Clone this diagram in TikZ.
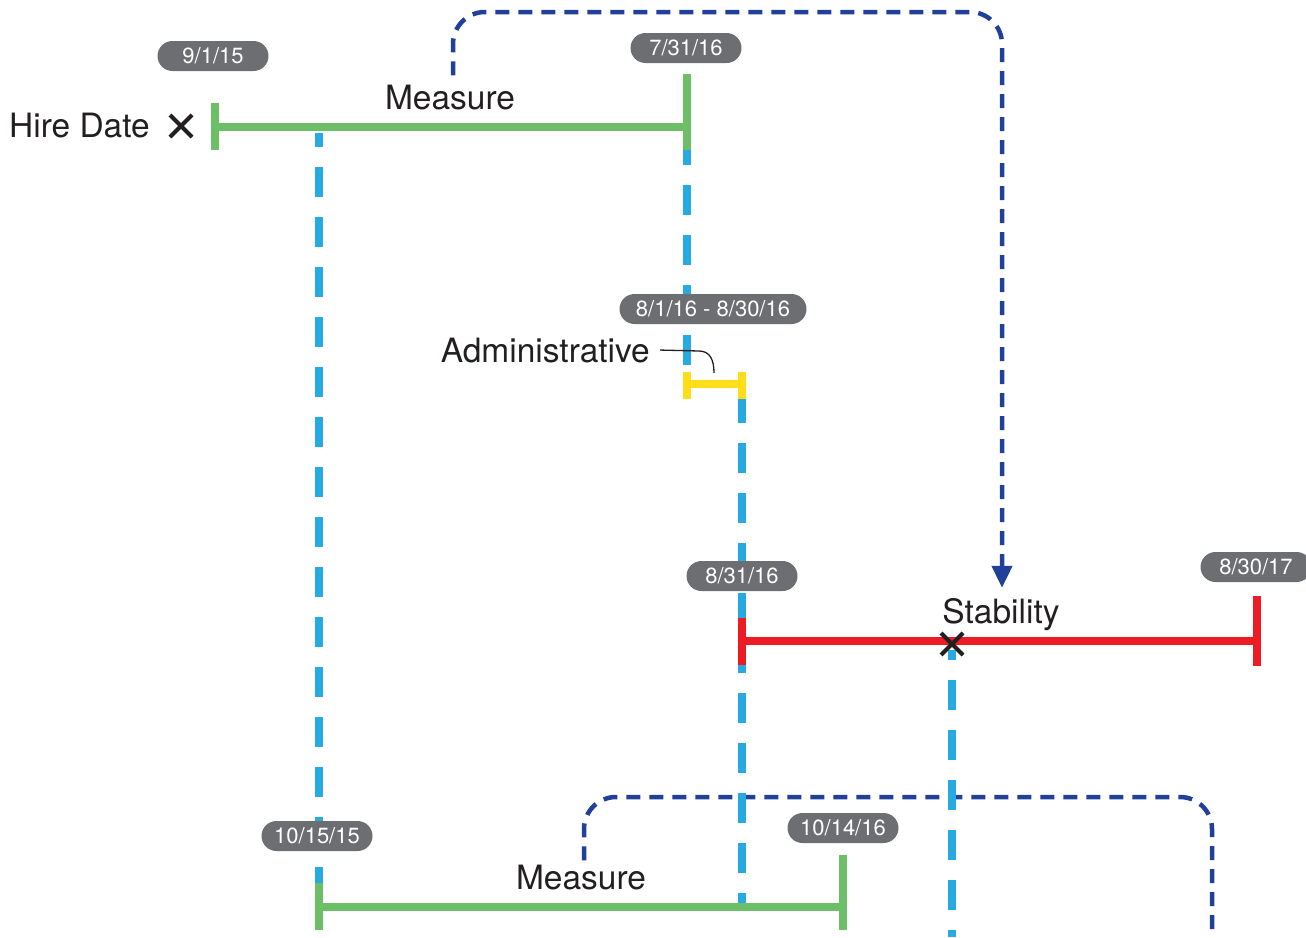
\documentclass[tikz,border=0pt]{standalone}
\usepackage{fontspec}
\setmainfont{TeX Gyre Heros}
\usetikzlibrary{arrows.meta}
\definecolor{pillgray}{HTML}{6D6E71}
\definecolor{barGreen}{HTML}{6CBF66}
\definecolor{barRed}{HTML}{ED1C24}
\definecolor{barYellow}{HTML}{FFDE17}
\definecolor{lightBlue}{HTML}{27AAE1}
\definecolor{darkBlue}{HTML}{21409A}
\definecolor{inkgray}{HTML}{231F20}
\begin{document}
\begin{tikzpicture}[x=1pt,y=-1pt,
  pill/.style={fill=pillgray, rounded corners=15pt, minimum height=30pt,
    minimum width=111pt, text=white, font=\fontsize{22}{25}\selectfont,
    inner sep=0pt},
  txt/.style={font=\fontsize{33.5}{40}\selectfont, text=inkgray, inner sep=0pt},
  bar/.style={line width=7.5pt},
  timedash/.style={lightBlue, line width=8pt, dash pattern=on 30pt off 20pt},
  flow/.style={darkBlue, line width=4.5pt, dash pattern=on 14pt off 9pt,
    rounded corners=32pt},
  cross/.style={line width=4.2pt, inkgray}]
\useasboundingbox (0,0) rectangle (1306,937);

% text labels
\node[txt, anchor=base east] (hire) at (150,137) {Hire Date};
\node[txt, anchor=base] (m1) at (450,109) {Measure};
\node[txt, anchor=base east] (adm) at (650,362) {Administrative};
\node[txt, anchor=base] (stab) at (1001,623) {Stability};
\node[txt, anchor=base] (m2) at (581,889) {Measure};

% key coordinates
\coordinate (topc) at (1002,12);
\coordinate (botc) at (1212,797);
\coordinate (botend) at (1212,937);

% dark blue flow arrows
\draw[flow, -{Triangle[length=22pt,width=20pt]}]
  ([xshift=3pt,yshift=9pt]m1.north) |- (topc) -- ([yshift=10pt]stab.north -| topc);
\draw[flow] ([xshift=3pt,yshift=4pt]m2.north) |- (botc) -- (botend);

% light blue dashed links
\draw[timedash, dash phase=16pt] (319,133) -- (319,883);
\draw[timedash, dash phase=15pt] (687,150) -- (687,372);
\draw[timedash, dash phase=5pt] (742,398) -- (742,907);
\draw[timedash, dash phase=20pt] (952,650) -- (952,937);

% green top bar
\draw[bar, barGreen] (215,127) -- (687,127);
\draw[bar, barGreen] (215,103) -- (215,150);
\draw[bar, barGreen] (687,74) -- (687,150);

% yellow bar
\draw[bar, barYellow] (687,384) -- (742,384);
\draw[bar, barYellow] (687,372) -- (687,399);
\draw[bar, barYellow] (742,372) -- (742,399);

% red bar
\draw[bar, barRed] (742,641) -- (1257,641);
\draw[bar, barRed] (742,618) -- (742,665);
\draw[bar, barRed] (1257,596) -- (1257,666);

% green bottom bar
\draw[bar, barGreen] (319,907) -- (843,907);
\draw[bar, barGreen] (319,883) -- (319,930);
\draw[bar, barGreen] (843,855) -- (843,930);

% crosses
\draw[cross] (170,115) -- (192,137) (170,137) -- (192,115);
\draw[cross] (941,633) -- (963,655) (941,655) -- (963,633);

% administrative leader
\draw[inkgray, line width=1.3pt] ([xshift=10pt]adm.east) -- (699,351)
  .. controls (710,351) and (714,360) .. (714,373);

% date pills
\node[pill] (p1) at (213,56) {9/1/15};
\node[pill] (p2) at (686,48) {7/31/16};
\node[pill, minimum width=187pt] (p3) at (713,309) {8/1/16 - 8/30/16};
\node[pill] (p4) at (742,576) {8/31/16};
\node[pill] (p5) at (1256,567) {8/30/17};
\node[pill] (p6) at (317,836) {10/15/15};
\node[pill] (p7) at (843,828) {10/14/16};
\end{tikzpicture}
\end{document}
